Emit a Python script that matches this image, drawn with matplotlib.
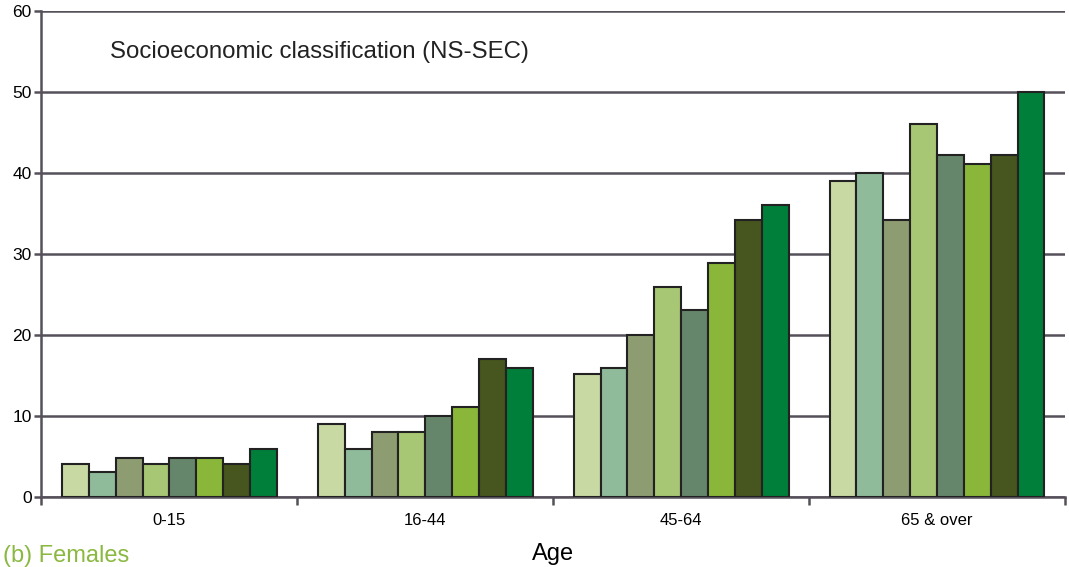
import matplotlib
matplotlib.use("Agg")
import matplotlib.pyplot as plt
import numpy as np

plt.rcParams['font.family'] = ['Liberation Sans', 'DejaVu Sans']

age_groups = ['0-15', '16-44', '45-64', '65 & over']
# eight NS-SEC classes, one series each
class_values = [
    [4.0, 9.0, 15.1, 39.0],
    [3.0, 5.9, 15.9, 39.9],
    [4.8, 8.0, 20.0, 34.1],
    [4.0, 8.0, 25.9, 46.0],
    [4.8, 10.0, 23.0, 42.2],
    [4.8, 11.1, 28.9, 41.1],
    [4.0, 17.0, 34.1, 42.2],
    [5.9, 15.9, 36.0, 50.0],
]
class_colors = ['#c8d9a4', '#8fbb9a', '#8e9c72', '#a8c774',
                '#66866b', '#8ab73a', '#46561e', '#007f3b']

fig = plt.figure(figsize=(10.69, 5.67), dpi=100)
ax = fig.add_axes([0.0388, 0.1243, 0.9574, 0.8568])

x = np.arange(len(age_groups))
w = 0.105
n = len(class_values)
for i, vals in enumerate(class_values):
    ax.bar(x + (i - (n - 1) / 2) * w, vals, width=w, color=class_colors[i],
           edgecolor='#222222', linewidth=1.5, zorder=3)

ax.set_xlim(-0.5, len(age_groups) - 0.5)
ax.set_ylim(0, 60)
ax.set_yticks(range(0, 61, 10))
ax.yaxis.grid(True, color='#55505a', linewidth=1.8, zorder=0)
ax.set_axisbelow(True)

# category labels centred, ticks on the boundaries
ax.set_xticks(np.arange(-0.5, len(age_groups)), minor=False)
ax.set_xticklabels([])
ax.set_xticks(x, minor=True)
ax.set_xticklabels(age_groups, minor=True, fontsize=12)
ax.tick_params(axis='x', which='minor', length=0, pad=12)
ax.tick_params(axis='x', which='major', length=6, width=1.8, color='#55505a')
ax.tick_params(axis='y', length=5, width=1.8, color='#55505a', labelsize=12.5, pad=2)

for s in ['top', 'right']:
    ax.spines[s].set_visible(False)
for s in ['left', 'bottom']:
    ax.spines[s].set_color('#55505a')
    ax.spines[s].set_linewidth(1.8)

ax.text(0.067, 0.915, 'Socioeconomic classification (NS-SEC)', transform=ax.transAxes,
        fontsize=17.3, color='#222222', va='center')
ax.set_xlabel('Age', fontsize=17, labelpad=11)

fig.text(0.003, 0.0, '(b) Females', fontsize=17, color='#8ab840', va='bottom')

fig.savefig('out.png', dpi=100)
